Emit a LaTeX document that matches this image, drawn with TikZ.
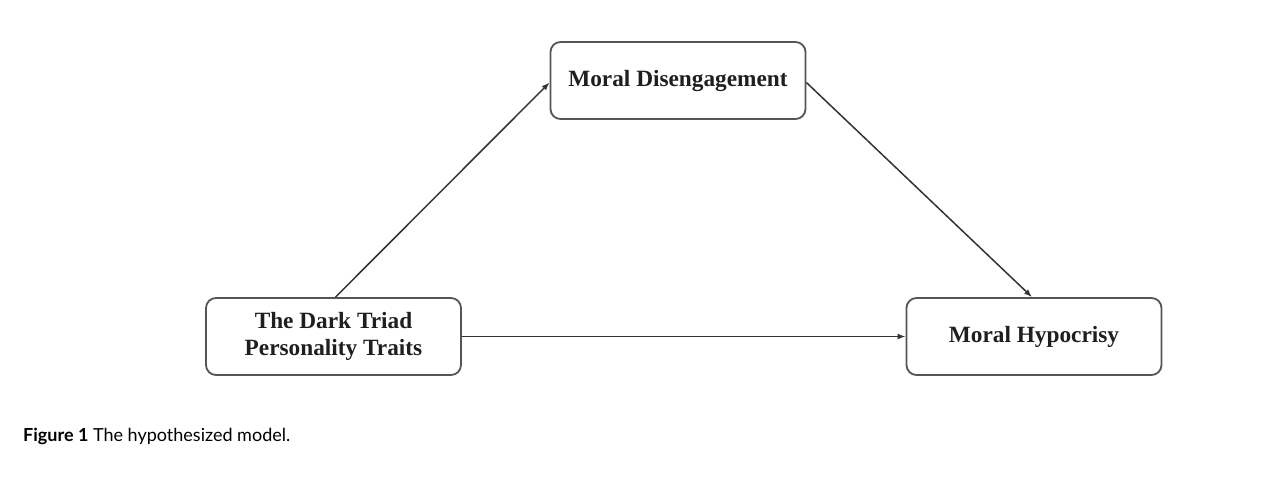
\documentclass[tikz,border=0pt]{standalone}
\usepackage{fontspec}
\setmainfont{Liberation Serif}
\newfontfamily\capfont{Lato}
\usetikzlibrary{arrows.meta,calc}
\definecolor{boxline}{HTML}{555555}
\definecolor{arrowline}{HTML}{333333}
\tikzset{
  modelbox/.style={draw=boxline, line width=1.8pt, rounded corners=10pt, fill=white,
    minimum width=255pt, minimum height=77pt, align=center, inner sep=0pt,
    font=\fontsize{23.3}{26.5}\selectfont\bfseries, text=black!88},
  link/.style={draw=arrowline, line width=1.5pt, -{Latex[length=8pt,width=6pt]}}
}
\begin{document}
\begin{tikzpicture}[x=1pt,y=-1pt]
\useasboundingbox (0,0) rectangle (1280,482);
\node[modelbox] (md) at (678,80.5) {Moral Disengagement};
\node[modelbox] (dt) at (333.5,336.5) {The Dark Triad\\Personality Traits};
\node[modelbox] (mh) at (1034,336.5) {Moral Hypocrisy};
\draw[link] ($(dt.north)+(2,0)$) -- ($(md.west)+(0,2)$);
\draw[link] ($(md.east)+(0,2)$) -- ($(mh.north)+(-2,0)$);
\draw[link] (dt.east) -- (mh.west);
\node[anchor=base west, inner sep=0pt, font=\capfont\fontsize{18}{20}\selectfont] (cap) at (23,441)
  {\textbf{Figure 1} The hypothesized model.};
\end{tikzpicture}
\end{document}
